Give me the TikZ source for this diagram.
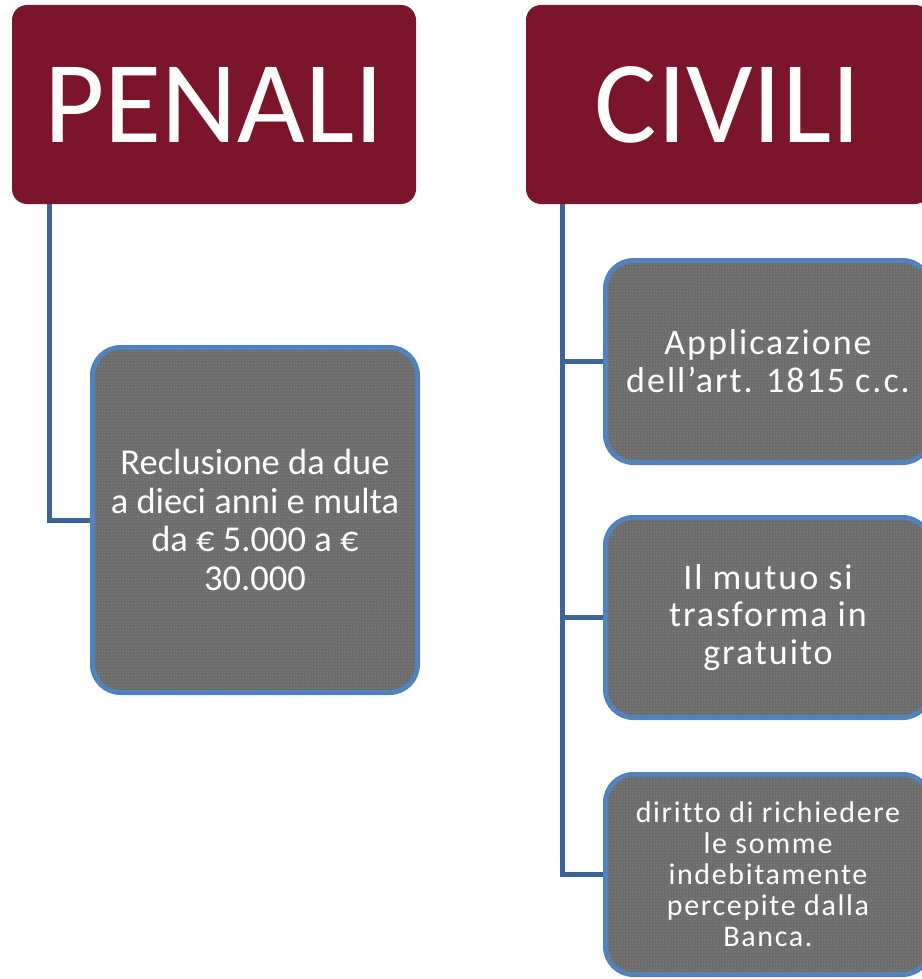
\documentclass[tikz,border=0pt]{standalone}
\usepackage{fontspec}
\setmainfont{Carlito}
\newfontfamily\spacedfont{Carlito}[LetterSpace=5.5,Ligatures={NoCommon}]
\usetikzlibrary{patterns,backgrounds}

\definecolor{headred}{RGB}{123,21,43}
\definecolor{boxgray}{RGB}{108,108,108}
\definecolor{boxline}{RGB}{79,129,189}
\definecolor{stemblue}{RGB}{62,99,150}

\begin{document}
\begin{tikzpicture}[x=1pt,y=-1pt,
    header/.style={fill=headred,rounded corners=15pt,minimum width=404pt,
      minimum height=199pt,inner sep=0pt,text=white,
      font=\fontsize{117}{120}\selectfont},
    leaf/.style={draw=boxline,line width=5pt,fill=boxgray,
      postaction={pattern=dots,pattern color=gray!75},
      rounded corners=28pt,minimum width=325pt,inner sep=0pt,
      text=white,align=center},
    stem/.style={draw=stemblue,line width=5pt}]
  \useasboundingbox (0,0) rectangle (921,979);

  % headers
  \node[header] (penali) at (214,104.5) {PENALI};
  \node[header] (civili) at (728,104.5) {CIVILI};

  % penali side
  \node[leaf,minimum height=345pt,font=\fontsize{36.5}{38.5}\selectfont]
    (reclusione) at (255,520) {Reclusione da due\\a dieci anni e multa\\da € 5.000 a €\\30.000};

  % civili side
  \node[leaf,minimum height=202pt,font=\spacedfont\fontsize{36}{38}\selectfont]
    (applicazione) at (768,361.5) {Applicazione\\dell’art. 1815 c.c.};
  \node[leaf,minimum height=200pt,font=\spacedfont\fontsize{36}{37.5}\selectfont]
    (mutuo) at (768,617.5) {Il mutuo si\\trasforma in\\gratuito};
  \node[leaf,minimum height=200pt,font=\spacedfont\fontsize{30}{31}\selectfont]
    (diritto) at (768,874.5) {diritto di richiedere\\le somme\\indebitamente\\percepite dalla\\Banca.};

  \coordinate (pstem) at ([xshift=38pt]penali.south west);
  \coordinate (cstem) at ([xshift=37pt]civili.south west);

  \begin{scope}[on background layer]
    \draw[stem] (pstem) |- (reclusione.west);
    \foreach \b in {applicazione,mutuo,diritto}
      \draw[stem] (cstem) |- (\b.west);
  \end{scope}
\end{tikzpicture}
\end{document}
